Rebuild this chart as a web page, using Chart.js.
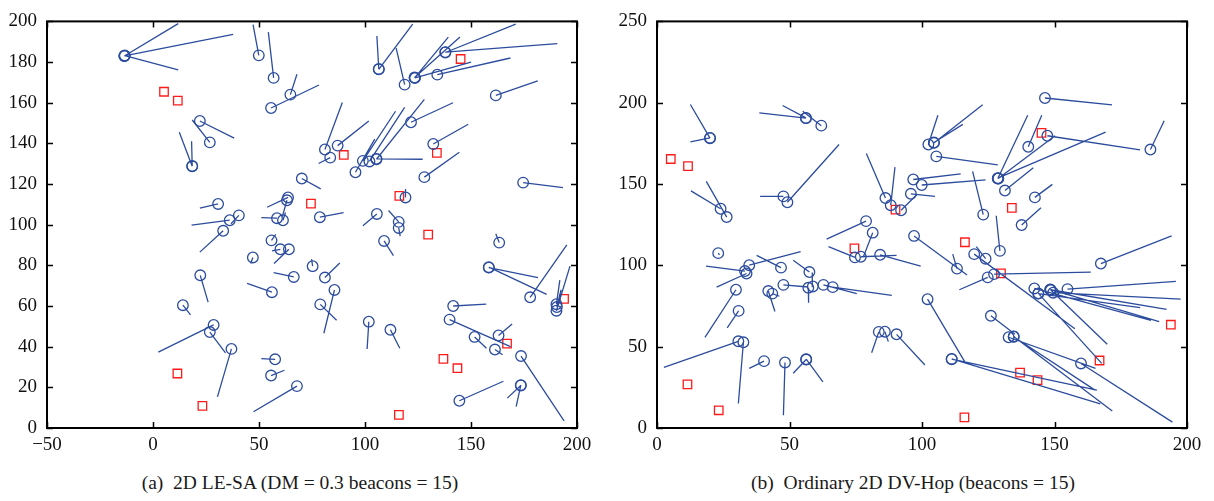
<!DOCTYPE html>
<html>
<head>
<meta charset="utf-8">
<script src="https://cdn.jsdelivr.net/npm/chart.js@4.4.1/dist/chart.umd.min.js"></script>
<style>
  body { margin: 0; background: #fff; width: 1214px; height: 501px; position: relative; overflow: hidden;
         font-family: 'Liberation Serif', 'Times New Roman', Times, 'DejaVu Serif', 'Noto Serif', FreeSerif, serif; }
  .panel { position: absolute; top: 0; height: 460px; }
  .caption { position: absolute; top: 472px; font-size: 19.5px; color: #1a1a1a; white-space: pre; transform: translateX(-50%); }
</style>
</head>
<body>
<div class="panel" style="left:0;width:600px"><canvas id="leChart"></canvas></div>
<div class="panel" style="left:607px;width:607px"><canvas id="dvChart"></canvas></div>
<div class="caption" style="left:300px">(a)  2D LE-SA (DM = 0.3 beacons = 15)</div>
<div class="caption" style="left:913px">(b)  Ordinary 2D DV-Hop (beacons = 15)</div>

<script>
// anchor nodes, same in both runs
const beacons = [[5.2,165.4],[11.7,161],[11.5,26.8],[23.3,10.9],[74.5,110.4],[90,134.3],[116.2,114.2],
  [116,6.5],[129.8,95.1],[133.9,135.3],[137,34],[143.6,29.4],[145.1,181.5],[167,41.5],[193.9,63.5]];

// LE-SA: estimated position of each unknown node, then its real position
const leEst = [[-13.5,183],[-13.5,183],[-13.3,183.2],[49.9,183.3],[56.9,172.2],[64.8,164],[55.7,157.4],
  [22.1,151],[26.8,140.5],[18.5,128.7],[18.5,128.9],[70.2,122.7],[30.7,110.2],[63.7,113.4],[63.2,112],
  [40.5,104.6],[36.2,102.2],[33.1,97],[58.5,103.2],[61.3,102.2],[106.5,176.4],[106.5,176.6],[123.4,172.2],
  [123.4,172.4],[123.6,172.2],[118.7,168.9],[137.9,184.7],[137.9,184.9],[134.1,173.8],[161.7,163.6],
  [121.7,150.4],[105.4,132.2],[99,131.4],[102.1,131.1],[105.4,132.4],[95.5,125.8],[81.1,137],[83.6,133],
  [87.1,138.9],[132.2,139.7],[128,123.4],[174.6,120.7],[119.1,113.4],[78.7,103.7],[105.6,105.3],
  [115.9,101.4],[115.9,98.4],[109,92],[163.3,91.2],[75.3,79.6],[81.1,74],[85.6,67.9],[78.9,60.8],
  [101.8,52.3],[112,48.3],[158.4,78.9],[158.4,79.1],[177.9,64.3],[190.3,60.9],[190.3,57.7],[141.6,60],
  [139.9,53.3],[163,45.5],[151.7,44.8],[161.3,38.6],[173.6,35.4],[173.5,20.9],[173.5,21.1],[144.5,13.4],
  [55.9,92.3],[60.1,87.9],[64.1,87.9],[47.1,83.9],[66.4,74.3],[56.1,66.8],[22.3,75.1],[14.1,60.4],
  [28.6,50.7],[26.8,47.2],[37,38.9],[57.6,33.8],[55.7,25.8],[67.9,20.6],[190.5,59.5]];
const leTrue = [[11.9,198.9],[37.8,193.6],[11.9,176.1],[47.2,198.4],[54.4,194.7],[67.9,174],[78.3,168.7],
  [38.3,142.6],[18.5,151.5],[12.4,145.5],[18.2,141],[79.1,117.6],[22.1,108.1],[53.8,108.6],[61,104],
  [36.8,100.5],[18.2,99.8],[22.1,86.5],[51.1,103.5],[62.5,106],[122.5,198.7],[105.6,192.8],[139.3,192.3],
  [144.8,192.3],[150,180],[114.7,186.9],[171.1,198.7],[190.7,189.1],[168.6,182],[181.5,170.8],
  [141.5,160],[128,161.6],[114.4,155.8],[118.7,157.7],[127.2,132.2],[104.6,142.1],[89.3,160.1],[78.1,130.1],
  [101.8,151],[148.7,149.4],[144.5,135.6],[193.4,118.2],[119.1,117.5],[89.9,105.9],[99,99.5],
  [111.1,107],[116.6,94.4],[113.4,84.8],[161.7,95.5],[74.8,83],[88.1,81.2],[80.6,46.6],[86.6,53],
  [101,38.9],[116.4,39.2],[181.6,74],[185.7,65.7],[195.2,90.1],[191.9,72.7],[196.7,79.6],[157.2,60.9],
  [168.6,40],[169.4,51.2],[157.3,39.2],[164.9,36],[193.9,3.5],[167.1,14.7],[171.3,10.5],[165.3,23],
  [57.9,95.2],[56.1,87.1],[57.1,80.9],[46.1,80.9],[56.9,76.4],[44.4,71.1],[26,61.9],[17.7,55.6],
  [2.5,37.3],[34.2,37],[30.4,15.3],[51.1,34.1],[62,28.4],[47.4,8],[192.5,68]];

// ordinary DV-Hop
const dvEst = [[56.2,190.5],[56.2,190.7],[62,185.9],[20,178.2],[20,178.4],[24,134.8],[26.3,129.7],
  [47.7,142.4],[49.2,138.8],[86.2,141.4],[88.2,137],[92.1,133.9],[78.9,127.2],[96.7,152.8],[99.9,149.4],
  [95.8,144],[102.4,174.3],[104.5,175.5],[104.5,175.3],[105.4,167],[146.4,202.9],[147.3,179.7],
  [186.2,171.2],[140.1,172.9],[128.6,153.4],[128.6,153.6],[128.8,153.4],[131.3,146],[142.6,141.8],
  [123.1,131.2],[137.6,124.8],[81.4,120.1],[97,118.1],[74.7,104.9],[76.9,105.3],[84.2,106.5],[23.1,107.5],
  [34.8,100.1],[33.2,96.5],[33.8,95],[46.8,98.6],[57.5,95.9],[47.7,88],[57.1,86.2],[58.8,87],[62.8,88],
  [66.3,86.6],[29.8,85],[30.8,72],[42,84.2],[43.5,82.6],[30.7,53.3],[32.6,52.7],[40.4,41.1],[48.3,40.3],
  [56.3,42.1],[56.3,42.3],[83.7,59.1],[86,59.2],[90.4,57.6],[129.4,108.9],[119.7,106.9],[124,104.1],
  [113.2,98],[124.8,92.6],[127.2,94.6],[167.5,101.1],[154.9,85.4],[149.5,83.2],[148.4,85],[148.4,85.2],
  [142.4,85.8],[143.9,82.6],[148.6,84.8],[143.9,82.8],[102.1,79.2],[126,69],[132.7,55.8],[134.6,56.3],
  [134.6,56.1],[111.2,42.3],[111.2,42.5],[160,39.7]];
const dvTrue = [[38.6,193.7],[47.4,198.3],[55,194.7],[12.6,198.9],[12.6,175.9],[12.8,145.8],[18.6,151.6],
  [38.9,142.4],[68.7,174.3],[79,168.8],[89.8,160.4],[98,143.4],[64,116.1],[114.6,156.2],[124,152.6],
  [104.9,142.4],[106,192.3],[115.4,186.7],[122.9,198.7],[128.6,161.8],[171.7,198.7],[182.3,171],
  [191.4,188.9],[145.2,192.3],[139.9,192.3],[169.3,181.9],[150.2,179.7],[142,160],[149.2,149.8],
  [119.1,157.8],[144.9,135.4],[77.8,104.9],[117,94.1],[64.7,111.5],[90.4,106.1],[99.5,99.5],[23.6,106.5],
  [54.2,108.5],[18.5,99.5],[22.5,86.6],[37.6,106.1],[51.4,103.1],[57,86.7],[57.2,77],[58.6,95.6],[75.4,82.6],
  [88.6,81.6],[18.1,55.7],[26.5,61.6],[44.5,71.6],[46.2,81],[2.6,37.3],[30.7,15.1],[34.8,36.7],[47.7,7.8],
  [51.4,33.7],[62.6,28.3],[81,46.3],[87.3,53.1],[101.1,38.7],[128,130.5],[157.7,61],[120.5,111.5],
  [111.6,106.9],[114.1,85],[163.7,95.9],[194.2,118.1],[195.8,90.2],[197.6,79.2],[192.3,73],[189.5,65.4],
  [186.4,66.2],[182.3,74],[169.9,51.5],[167.8,39.7],[116.5,39.7],[135.1,57.6],[165.5,36.7],[171.8,10.4],
  [165.3,23.3],[166,23.3],[167.3,14.8],[194.5,3.6]];

const leXTicks = [-50, 0, 50, 100, 150, 200];
const leYTicks = [0, 20, 40, 60, 80, 100, 120, 140, 160, 180, 200];
const dvXTicks = [0, 50, 100, 150, 200];
const dvYTicks = [0, 50, 100, 150, 200, 250];

const BLUE = '#2c4c9e';
const RED = '#ff1a1a';
const FONT = { family: "'Liberation Serif', 'Times New Roman', Times, 'DejaVu Serif', 'Noto Serif', FreeSerif, serif", size: 19 };

// one segment per node, broken apart by a null point
function errorSegments(est, act) {
  const pts = [];
  est.forEach((p, i) => {
    pts.push({ x: p[0], y: p[1] }, { x: act[i][0], y: act[i][1] }, { x: p[0], y: null });
  });
  return pts;
}
const toPts = arr => arr.map(p => ({ x: p[0], y: p[1] }));

// matlab-ish box with ticks pointing inward on all four sides
const boxTicks = {
  id: 'boxTicks',
  afterDraw(chart) {
    const { ctx, chartArea: a, scales: { x, y } } = chart;
    ctx.save();
    ctx.strokeStyle = '#000';
    ctx.lineWidth = 1.5;
    ctx.beginPath();
    x.ticks.forEach(t => {
      const px = Math.round(x.getPixelForValue(t.value)) + 0.5;
      ctx.moveTo(px, a.bottom); ctx.lineTo(px, a.bottom - 6);
      ctx.moveTo(px, a.top); ctx.lineTo(px, a.top + 6);
    });
    y.ticks.forEach(t => {
      const py = Math.round(y.getPixelForValue(t.value)) + 0.5;
      ctx.moveTo(a.left, py); ctx.lineTo(a.left + 6, py);
      ctx.moveTo(a.right, py); ctx.lineTo(a.right - 6, py);
    });
    ctx.stroke();
    ctx.lineWidth = 2;
    ctx.strokeRect(a.left, a.top, a.right - a.left, a.bottom - a.top);
    ctx.restore();
  }
};

function makeChart(id, est, act, xTicks, yTicks, yAxisWidth, rightPad) {
  new Chart(document.getElementById(id), {
    type: 'scatter',
    data: {
      datasets: [
        {
          data: errorSegments(est, act),
          showLine: true, spanGaps: false,
          borderColor: BLUE, borderWidth: 1.3,
          pointRadius: 0
        },
        {
          data: toPts(est),
          pointStyle: 'circle', pointRadius: 5.3,
          borderColor: BLUE, backgroundColor: 'rgba(0,0,0,0)', borderWidth: 1.3
        },
        {
          data: toPts(beacons),
          pointStyle: 'rect', pointRadius: 6,
          borderColor: RED, backgroundColor: 'rgba(0,0,0,0)', borderWidth: 1.3
        }
      ]
    },
    options: {
      responsive: true,
      maintainAspectRatio: false,
      animation: false,
      layout: { padding: { left: 0, right: rightPad, top: 10, bottom: 0 } },
      plugins: { legend: { display: false }, tooltip: { enabled: false } },
      scales: {
        x: {
          type: 'linear',
          min: xTicks[0], max: xTicks[xTicks.length - 1],
          afterBuildTicks: s => { s.ticks = xTicks.map(v => ({ value: v })); },
          afterFit: s => { s.height = 32; },
          grid: { display: false, drawTicks: false },
          border: { display: false },
          ticks: { font: FONT, color: '#111', padding: 6, maxRotation: 0,
                   callback: v => String(v).replace('-', '\u2212') }
        },
        y: {
          type: 'linear',
          min: yTicks[0], max: yTicks[yTicks.length - 1],
          afterBuildTicks: s => { s.ticks = yTicks.map(v => ({ value: v })); },
          afterFit: s => { s.width = yAxisWidth; },
          grid: { display: false, drawTicks: false },
          border: { display: false },
          ticks: { font: FONT, color: '#111', padding: 10 }
        }
      }
    },
    plugins: [boxTicks]
  });
}

makeChart('leChart', leEst, leTrue, leXTicks, leYTicks, 47, 23);
makeChart('dvChart', dvEst, dvTrue, dvXTicks, dvYTicks, 50, 27);
</script>
</body>
</html>
